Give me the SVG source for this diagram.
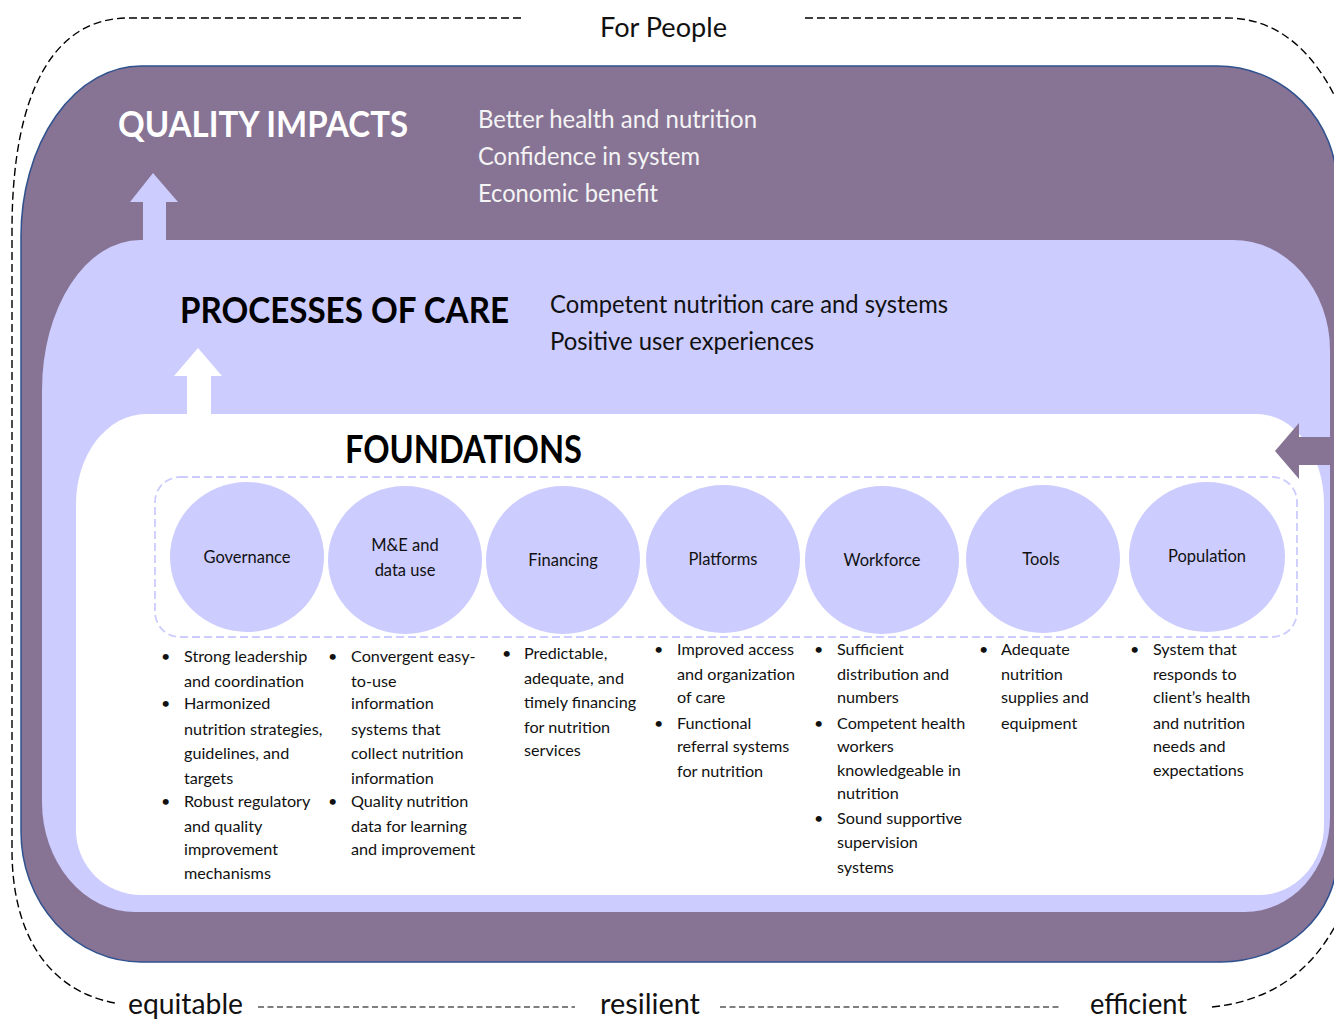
<svg xmlns="http://www.w3.org/2000/svg" width="1334" height="1019" viewBox="0 0 1334 1019">
  <style>
    .txt { font-family: Lato, "Open Sans", "Liberation Sans", sans-serif; }
    .head { font-family: Lato, "Open Sans", "Liberation Sans", sans-serif; font-weight: bold; }
    .side { font-family: Lato, "Open Sans", "Liberation Sans", sans-serif; font-size: 25px; }
    .edge { fill: none; stroke: #000; stroke-width: 1.4; stroke-dasharray: 8 4; }
    .edge-fine { fill: none; stroke: #000; stroke-width: 1.2; stroke-dasharray: 6 3.5; }
    .pillar { fill: #CCCCFF; }
    .plabel { font-family: Lato, "Open Sans", "Liberation Sans", sans-serif; font-size: 16.5px; fill: #111; text-anchor: middle; }
    .list { font-family: Lato, "Open Sans", "Liberation Sans", sans-serif; font-size: 16.2px; fill: #111; }
  </style>

  <!-- Outer dashed frame and quality dimensions -->
  <g id="frame">
    <path class="edge" d="M 521 18 H 128 C 55 18 12 90 12 230 V 850 C 12 930 45 990 115 1003"/>
    <path class="edge" d="M 805 18 H 1227 C 1280 18 1318 55 1342 112"/>
    <path class="edge" d="M 1212 1007 C 1270 1001 1315 972 1342 912"/>
    <path class="edge-fine" d="M 258 1007 H 575 M 720 1007 H 1062"/>
    <text class="txt" x="600" y="37" font-size="26" fill="#111" textLength="127" lengthAdjust="spacingAndGlyphs">For People</text>
    <text class="txt" x="128" y="1014" font-size="29" fill="#111" textLength="115" lengthAdjust="spacingAndGlyphs">equitable</text>
    <text class="txt" x="600" y="1014" font-size="29" fill="#111" textLength="100" lengthAdjust="spacingAndGlyphs">resilient</text>
    <text class="txt" x="1090" y="1014" font-size="29" fill="#111" textLength="97" lengthAdjust="spacingAndGlyphs">efficient</text>
  </g>

  <!-- Quality impacts layer -->
  <g id="quality-impacts">
    <path d="M 141 66 H 1217 A 120 120 0 0 1 1337 186 V 857 A 116 105 0 0 1 1221 962 H 141 A 120 130 0 0 1 21 832 V 236 A 120 170 0 0 1 141 66 Z" fill="#877394" stroke="#2F528F" stroke-width="1.5"/>
    <text class="head" x="118" y="137" font-size="37" fill="#FFFFFF" textLength="290" lengthAdjust="spacingAndGlyphs">QUALITY IMPACTS</text>
    <text class="side" x="478" y="128" fill="#F4F4F4" textLength="279" lengthAdjust="spacingAndGlyphs">Better health and nutrition</text>
    <text class="side" x="478" y="165" fill="#F4F4F4" textLength="222" lengthAdjust="spacingAndGlyphs">Confidence in system</text>
    <text class="side" x="478" y="202" fill="#F4F4F4" textLength="180" lengthAdjust="spacingAndGlyphs">Economic benefit</text>
  </g>

  <!-- Processes of care layer -->
  <g id="processes-of-care">
    <path d="M 140 240 H 1233 A 97 110 0 0 1 1330 350 V 817 A 85 95 0 0 1 1245 912 H 135 A 93 110 0 0 1 42 802 V 390 A 98 150 0 0 1 140 240 Z" fill="#CCCCFF"/>
    <text class="head" x="180" y="323" font-size="36" fill="#000" textLength="329" lengthAdjust="spacingAndGlyphs">PROCESSES OF CARE</text>
    <text class="side" x="550" y="313" font-size="24" fill="#111" textLength="398" lengthAdjust="spacingAndGlyphs">Competent nutrition care and systems</text>
    <text class="side" x="550" y="350" font-size="24" fill="#111" textLength="264" lengthAdjust="spacingAndGlyphs">Positive user experiences</text>
  </g>

  <!-- Foundations layer -->
  <g id="foundations">
    <path d="M 146 414 H 1257 A 67 90 0 0 1 1324 504 V 825 A 65 70 0 0 1 1259 895 H 141 A 65 65 0 0 1 76 830 V 504 A 70 90 0 0 1 146 414 Z" fill="#FFFFFF"/>
    <text class="head" x="345" y="463" font-size="38" fill="#000" textLength="237" lengthAdjust="spacingAndGlyphs">FOUNDATIONS</text>
    <rect x="155" y="477" width="1142" height="160" rx="25" ry="25" fill="none" stroke="#CCCCFF" stroke-width="1.8" stroke-dasharray="8 4"/>
  </g>

  <!-- Foundation pillars -->
  <g id="governance">
    <ellipse class="pillar" cx="247" cy="557" rx="77" ry="75"/>
    <text class="plabel" x="247" y="563">Governance</text>
    <text class="list"><tspan x="161" y="662">•</tspan><tspan x="184" y="662">Strong leadership</tspan><tspan x="184" y="687">and coordination</tspan><tspan x="161" y="709">•</tspan><tspan x="184" y="709">Harmonized</tspan><tspan x="184" y="735">nutrition strategies,</tspan><tspan x="184" y="759">guidelines, and</tspan><tspan x="184" y="784">targets</tspan><tspan x="161" y="807">•</tspan><tspan x="184" y="807">Robust regulatory</tspan><tspan x="184" y="832">and quality</tspan><tspan x="184" y="855">improvement</tspan><tspan x="184" y="879">mechanisms</tspan></text>
  </g>

  <g id="me-data-use">
    <ellipse class="pillar" cx="405" cy="560" rx="77" ry="74"/>
    <text class="plabel" x="405" y="551">M&amp;E and</text>
    <text class="plabel" x="405" y="576">data use</text>
    <text class="list"><tspan x="328" y="662">•</tspan><tspan x="351" y="662">Convergent easy-</tspan><tspan x="351" y="687">to-use</tspan><tspan x="351" y="709">information</tspan><tspan x="351" y="735">systems that</tspan><tspan x="351" y="759">collect nutrition</tspan><tspan x="351" y="784">information</tspan><tspan x="328" y="807">•</tspan><tspan x="351" y="807">Quality nutrition</tspan><tspan x="351" y="832">data for learning</tspan><tspan x="351" y="855">and improvement</tspan></text>
  </g>

  <g id="financing">
    <ellipse class="pillar" cx="563" cy="560" rx="77" ry="74"/>
    <text class="plabel" x="563" y="566">Financing</text>
    <text class="list"><tspan x="502" y="659">•</tspan><tspan x="524" y="659">Predictable,</tspan><tspan x="524" y="684">adequate, and</tspan><tspan x="524" y="708">timely financing</tspan><tspan x="524" y="733">for nutrition</tspan><tspan x="524" y="756">services</tspan></text>
  </g>

  <g id="platforms">
    <ellipse class="pillar" cx="723" cy="559" rx="77" ry="74"/>
    <text class="plabel" x="723" y="565">Platforms</text>
    <text class="list"><tspan x="654" y="655">•</tspan><tspan x="677" y="655">Improved access</tspan><tspan x="677" y="680">and organization</tspan><tspan x="677" y="703">of care</tspan><tspan x="654" y="729">•</tspan><tspan x="677" y="729">Functional</tspan><tspan x="677" y="752">referral systems</tspan><tspan x="677" y="777">for nutrition</tspan></text>
  </g>

  <g id="workforce">
    <ellipse class="pillar" cx="882" cy="560" rx="77" ry="74"/>
    <text class="plabel" x="882" y="566">Workforce</text>
    <text class="list"><tspan x="814" y="655">•</tspan><tspan x="837" y="655">Sufficient</tspan><tspan x="837" y="680">distribution and</tspan><tspan x="837" y="703">numbers</tspan><tspan x="814" y="729">•</tspan><tspan x="837" y="729">Competent health</tspan><tspan x="837" y="752">workers</tspan><tspan x="837" y="776">knowledgeable in</tspan><tspan x="837" y="799">nutrition</tspan><tspan x="814" y="824">•</tspan><tspan x="837" y="824">Sound supportive</tspan><tspan x="837" y="848">supervision</tspan><tspan x="837" y="873">systems</tspan></text>
  </g>

  <g id="tools">
    <ellipse class="pillar" cx="1043" cy="559" rx="77" ry="74"/>
    <text class="plabel" x="1041" y="565">Tools</text>
    <text class="list"><tspan x="979" y="655">•</tspan><tspan x="1001" y="655">Adequate</tspan><tspan x="1001" y="680">nutrition</tspan><tspan x="1001" y="703">supplies and</tspan><tspan x="1001" y="729">equipment</tspan></text>
  </g>

  <g id="population">
    <ellipse class="pillar" cx="1207" cy="557" rx="78" ry="75"/>
    <text class="plabel" x="1207" y="562">Population</text>
    <text class="list"><tspan x="1130" y="655">•</tspan><tspan x="1153" y="655">System that</tspan><tspan x="1153" y="680">responds to</tspan><tspan x="1153" y="703">client’s health</tspan><tspan x="1153" y="729">and nutrition</tspan><tspan x="1153" y="752">needs and</tspan><tspan x="1153" y="776">expectations</tspan></text>
  </g>

  <!-- Block arrows between layers -->
  <g id="connectors">
    <polygon points="143,242 143,202 130,202 153,173 178,202 166,202 166,242" fill="#CCCCFF"/>
    <polygon points="187,416 187,376 174,376 198,348 222,376 211,376 211,416" fill="#FFFFFF"/>
    <polygon points="1338,437 1299,437 1299,423 1275,451 1299,479 1299,465 1338,465" fill="#877394"/>
  </g>
</svg>
